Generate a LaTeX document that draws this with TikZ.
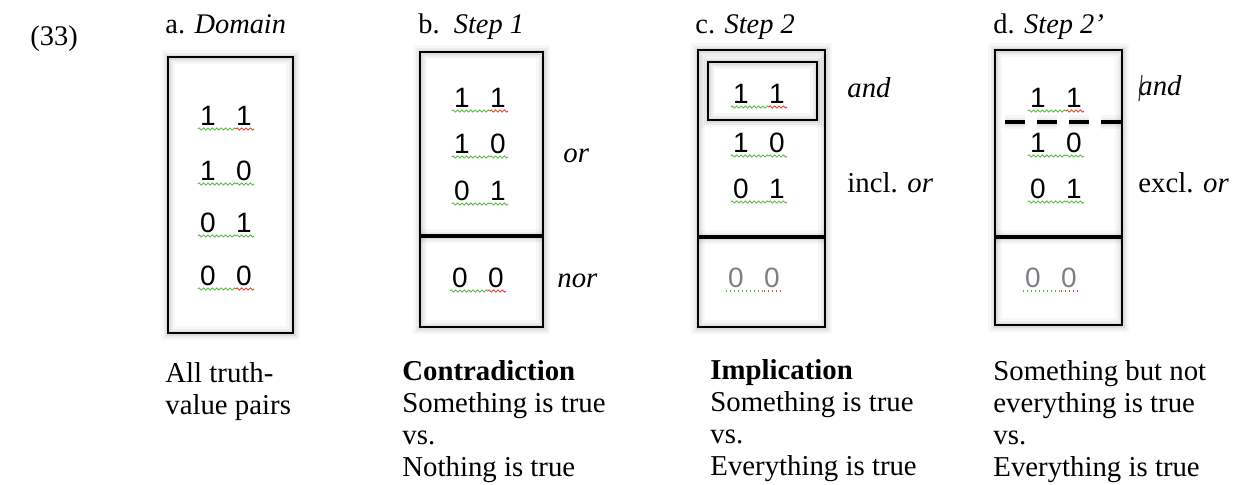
\documentclass[tikz,border=0pt]{standalone}
\usepackage{fontspec}
\setmainfont{Liberation Serif}
\newfontfamily\digitfont{Liberation Sans}
\usetikzlibrary{calc,decorations.pathmorphing}

\definecolor{spellgreen}{RGB}{95,185,75}
\definecolor{spellred}{RGB}{225,70,50}
\definecolor{fadedgray}{RGB}{125,128,135}

\tikzset{
  frame/.style={line width=1.3pt, black},
  divider/.style={line width=1.7pt, black},
  cutline/.style={line width=1.6pt, black, dash pattern=on 10pt off 6pt},
  titletext/.style={font=\fontsize{14.2}{16}\selectfont, anchor=base west, inner sep=0pt},
  % multi-line captions are placed by the baseline of their last line
  captext/.style={font=\fontsize{14.4}{16}\selectfont, anchor=base west, inner sep=0pt, align=left},
  sidetext/.style={font=\fontsize{14.4}{16}\selectfont, anchor=base west, inner sep=0pt},
  digit/.style={font=\digitfont\fontsize{14}{16}\selectfont, anchor=base, inner sep=0pt},
  wavy/.style={decorate, decoration={snake, amplitude=0.55pt, segment length=2.2pt}, line width=0.45pt},
  dottedline/.style={line width=0.7pt, dash pattern=on 0.8pt off 1.2pt},
}

% soft grey shadow stroke under a path
\newcommand{\softshadow}[2][]{%
  \foreach \sw/\so in {7/0.03,4.5/0.045,2.5/0.065,1.2/0.08}{%
    \draw[line width=\sw pt, black, opacity=\so, shift={(2,5)}, #1] #2;}}

% a truth-value pair with spell-check underlines
\newcommand{\tvpair}[6]{%
  \node[digit] (#1a) at ({#2-18},#3) {#4};
  \node[digit] (#1b) at ({#2+18},#3) {#5};
  \draw[wavy, spellgreen] ($(#1a.base west)+(-2,4)$) -- ($(#1b.base west)+(0,4)$);
  \draw[wavy, #6] ($(#1b.base west)+(0,4)$) -- ($(#1b.base east)+(2,4)$);
}
% the same pair, greyed out
\newcommand{\fadedpair}[5]{%
  \node[digit, text=fadedgray] (#1a) at ({#2-18},#3) {#4};
  \node[digit, text=fadedgray] (#1b) at ({#2+18},#3) {#5};
  \draw[dottedline, spellgreen] ($(#1a.base west)+(-2,4)$) -- ($(#1b.base west)+(0,4)$);
  \draw[dottedline, spellred] ($(#1b.base west)+(0,4)$) -- ($(#1b.base east)+(2,4)$);
}

\begin{document}
\begin{tikzpicture}[x=0.5pt,y=-0.5pt]
\useasboundingbox (0,0) rectangle (1239,484);

% example number and panel titles
\node[titletext] (num) at (30,45) {(33)};
\node[titletext] (ta) at (165,33) {a. \textit{Domain}};
\node[titletext] (tb) at (418,33) {b.\ \ \textit{Step 1}};
\node[titletext] (tc) at (695,33) {c. \textit{Step 2}};
\node[titletext] (td) at (993,33) {d. \textit{Step 2’}};

% box corners and dividers
\coordinate (a1) at (168,57);  \coordinate (a2) at (293,333);
\coordinate (b1) at (420,52);  \coordinate (b2) at (543,327);
\coordinate (bl) at (420,236); \coordinate (br) at (543,236);
\coordinate (c1) at (698,50);  \coordinate (c2) at (825,327);
\coordinate (cl) at (698,237); \coordinate (cr) at (825,237);
\coordinate (ci1) at (708,62); \coordinate (ci2) at (817,120);
\coordinate (d1) at (995,50);  \coordinate (d2) at (1122,325);
\coordinate (dl) at (995,237); \coordinate (dr) at (1122,237);
\coordinate (dcl) at (1005,122); \coordinate (dcr) at (1122,122);

% shadows
\softshadow{(a1) rectangle (a2)}
\softshadow{(b1) rectangle (b2)}
\softshadow{(bl) -- (br)}
\softshadow{(c1) rectangle (c2)}
\softshadow{(cl) -- (cr)}
\softshadow{(ci1) rectangle (ci2)}
\softshadow{(d1) rectangle (d2)}
\softshadow{(dl) -- (dr)}
\softshadow[dash pattern=on 10pt off 6pt]{(dcl) -- (dcr)}

% frames
\draw[frame] (a1) rectangle (a2);
\draw[frame] (b1) rectangle (b2);
\draw[divider] (bl) -- (br);
\draw[frame] (c1) rectangle (c2);
\draw[divider] (cl) -- (cr);
\draw[frame] (ci1) rectangle (ci2);
\draw[frame] (d1) rectangle (d2);
\draw[divider] (dl) -- (dr);
\draw[cutline] (dcl) -- (dcr);

% a. Domain
\tvpair{pa1}{226}{125}{1}{1}{spellred}
\tvpair{pa2}{226}{180}{1}{0}{spellgreen}
\tvpair{pa3}{226}{232}{0}{1}{spellgreen}
\tvpair{pa4}{226}{285}{0}{0}{spellred}

% b. Step 1
\tvpair{pb1}{480}{107}{1}{1}{spellred}
\tvpair{pb2}{480}{153}{1}{0}{spellgreen}
\tvpair{pb3}{480}{200}{0}{1}{spellgreen}
\tvpair{pb4}{478}{287}{0}{0}{spellred}
\node[sidetext] (bor) at (563,162) {\textit{or}};
\node[sidetext] (bnor) at (557,287) {\textit{nor}};

% c. Step 2
\tvpair{pc1}{759}{103}{1}{1}{spellred}
\tvpair{pc2}{759}{152}{1}{0}{spellgreen}
\tvpair{pc3}{759}{198}{0}{1}{spellgreen}
\fadedpair{pc4}{754}{287}{0}{0}
\node[sidetext] (cand) at (847,97) {\textit{and}};
\node[sidetext] (cor) at (847,192) {incl. \textit{or}};

% d. Step 2'
\tvpair{pd1}{1056}{107}{1}{1}{spellred}
\tvpair{pd2}{1056}{152}{1}{0}{spellgreen}
\tvpair{pd3}{1056}{198}{0}{1}{spellgreen}
\fadedpair{pd4}{1051}{287}{0}{0}
\node[sidetext] (dand) at (1138,95) {\textit{and}};
\draw[line width=0.6pt, black!80] ($(dand.base west)+(4,-20)$) -- ($(dand.base west)+(1,6)$);
\node[sidetext] (dor) at (1138,192) {excl. \textit{or}};

% captions
\node[captext] (capa) at (165,414) {All truth-\\value pairs};
\node[captext] (capb) at (402,476) {\textbf{Contradiction}\\Something is true\\vs.\\Nothing is true};
\node[captext] (capc) at (710,475) {\textbf{Implication}\\Something is true\\vs.\\Everything is true};
\node[captext] (capd) at (993,476) {Something but not\\everything is true\\vs.\\Everything is true};
\end{tikzpicture}
\end{document}
